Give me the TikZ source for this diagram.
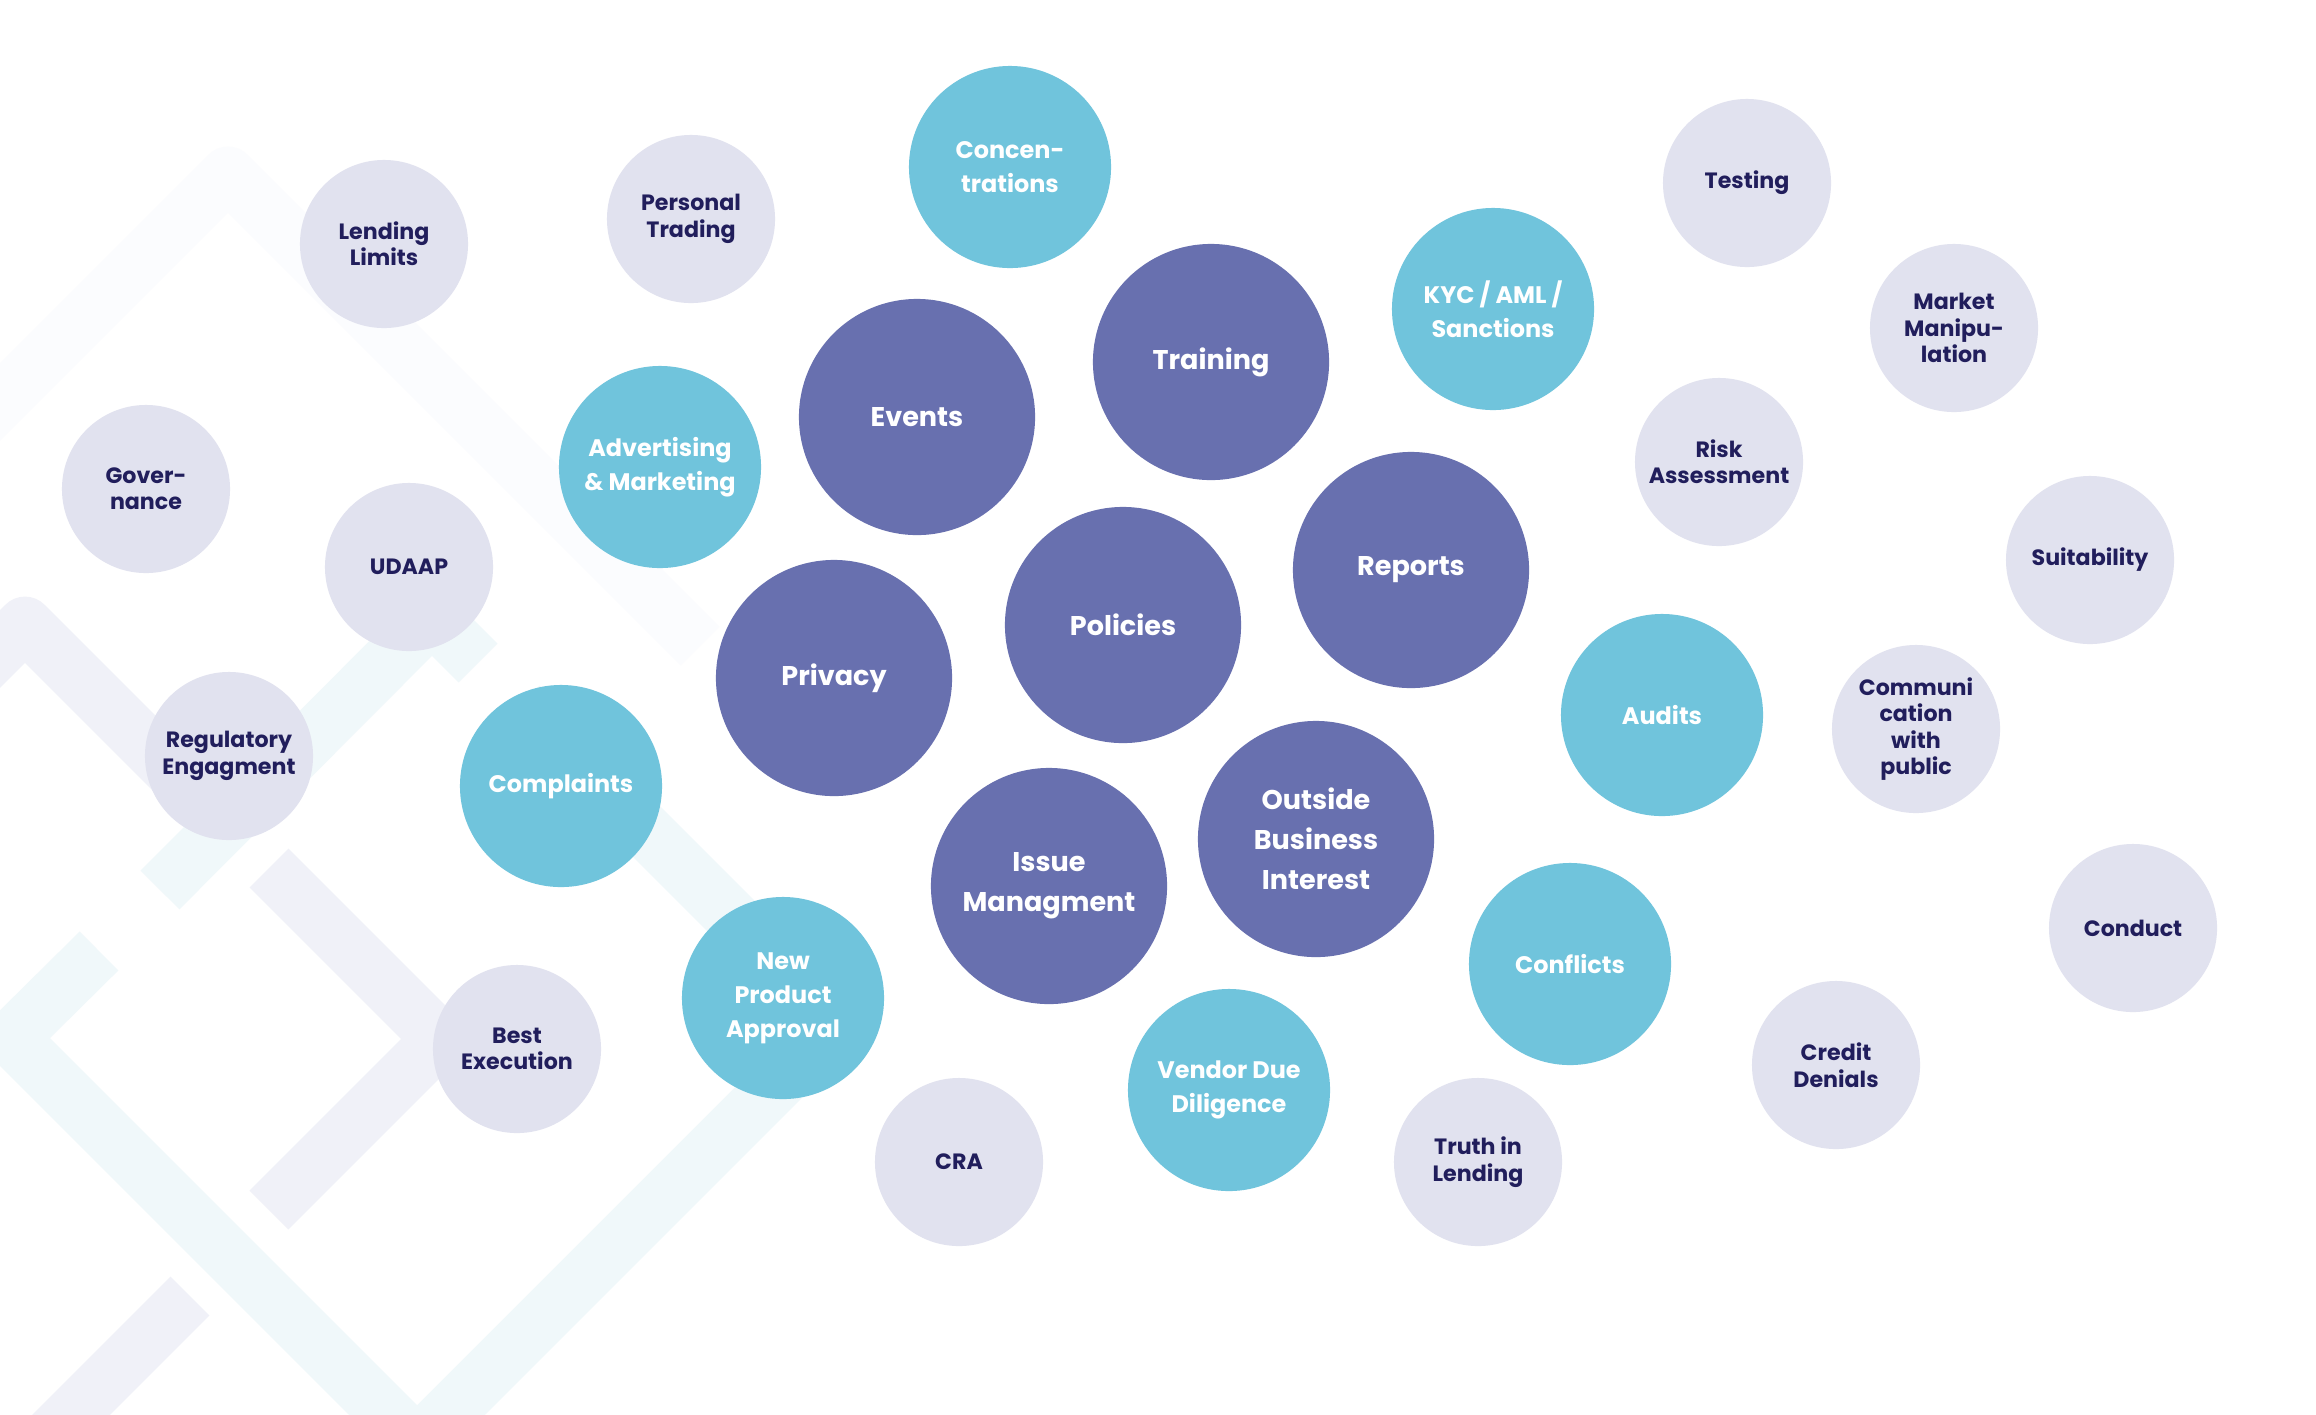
\documentclass[tikz,border=0pt]{standalone}
\usepackage{fontspec}
\setmainfont{Poppins}
\definecolor{bubgray}{HTML}{E1E2EF}
\definecolor{bubteal}{HTML}{70C4DC}
\definecolor{bubpurple}{HTML}{6870AF}
\definecolor{navy}{HTML}{211E5C}
\definecolor{bggray}{HTML}{F0F1F8}
\definecolor{bgteal}{HTML}{F0F8FA}
\definecolor{bgfaint}{HTML}{FBFCFE}
\begin{document}
\begin{tikzpicture}[x=0.01cm,y=-0.01cm,
  gbub/.style={circle,fill=bubgray,minimum size=1.68cm,inner sep=0pt,align=center,text=navy,font=\bfseries\fontsize{6.3}{7.5}\selectfont},
  tbub/.style={circle,fill=bubteal,minimum size=2.02cm,inner sep=0pt,align=center,text=white,font=\bfseries\fontsize{6.8}{9.6}\selectfont},
  pbub/.style={circle,fill=bubpurple,minimum size=2.36cm,inner sep=0pt,align=center,text=white,font=\bfseries\fontsize{7.7}{11.4}\selectfont},
  band/.style={line width=15.6pt,line cap=butt,line join=round}]
\useasboundingbox (0,0) rectangle (2316,1414);
\fill[white] (0,0) rectangle (2316,1414);
\begin{scope}
\clip (0,0) rectangle (2316,1414);
% faint background bands
\draw[band,bgfaint] (-60,462) -- (228,174) -- (700,646);
\draw[band,bggray] (-100,749) -- (25,624) -- (236,835);
\draw[band,bggray] (269,868) -- (440,1039) -- (269,1210);
\draw[band,bggray] (190,1296) -- (0,1486);
\draw[band,bgteal] (99,951) -- (11,1038) -- (417,1444) -- (838,1023) -- (520,705);
\draw[band,bgteal] (160,890) -- (432,617) -- (478,663);
\end{scope}
% gray bubbles
\node[gbub] (lend) at (384,244) {Lending\\Limits};
\node[gbub] (pers) at (691,219) {Personal\\Trading};
\node[gbub] (gov) at (146,489) {Gover-\\nance};
\node[gbub] (udaap) at (409,567) {UDAAP};
\node[gbub] (reg) at (229,756) {Regulatory\\Engagment};
\node[gbub] (best) at (517,1049) {Best\\Execution};
\node[gbub] (cra) at (959,1162) {CRA};
\node[gbub] (til) at (1478,1162) {Truth in\\Lending};
\node[gbub] (cred) at (1836,1065) {Credit\\Denials};
\node[gbub] (cond) at (2133,928) {Conduct};
\node[gbub] (comm) at (1916,729) {Communi\\cation\\with\\public};
\node[gbub] (suit) at (2090,560) {Suitability};
\node[gbub] (risk) at (1719,462) {Risk\\Assessment};
\node[gbub] (mkt) at (1954,328) {Market\\Manipu-\\lation};
\node[gbub] (test) at (1747,183) {Testing};
% teal bubbles
\node[tbub] (conc) at (1010,167) {Concen-\\trations};
\node[tbub] (kyc) at (1493,309) {KYC / AML /\\Sanctions};
\node[tbub] (adv) at (660,467) {Advertising\\\& Marketing};
\node[tbub] (compl) at (561,786) {Complaints};
\node[tbub] (npa) at (783,998) {New\\Product\\Approval};
\node[tbub] (vend) at (1229,1090) {Vendor Due\\Diligence};
\node[tbub] (confl) at (1570,964) {Conflicts};
\node[tbub] (aud) at (1662,715) {Audits};
% purple bubbles
\node[pbub] (events) at (917,417) {Events};
\node[pbub] (train) at (1211,362) {Training};
\node[pbub] (rep) at (1411,570) {Reports};
\node[pbub] (pol) at (1123,625) {Policies};
\node[pbub] (priv) at (834,678) {Privacy};
\node[pbub] (issue) at (1049,886) {Issue\\Managment};
\node[pbub] (obi) at (1316,839) {Outside\\Business\\Interest};
\end{tikzpicture}
\end{document}
